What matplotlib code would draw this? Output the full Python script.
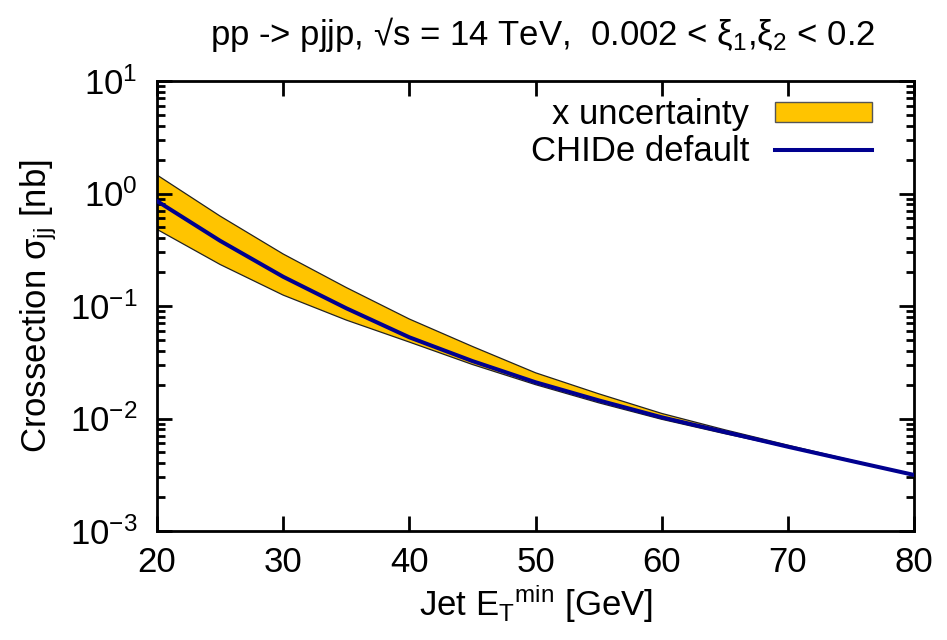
import matplotlib
matplotlib.use("Agg")
import matplotlib.pyplot as plt
from matplotlib.patches import Patch
from matplotlib.lines import Line2D
from matplotlib.ticker import LogLocator, LogFormatterMathtext, NullFormatter, FixedLocator


# =========================
# DATA
# =========================

et_min = [20, 25, 30, 35, 40, 45, 50, 55, 60, 65, 70, 75, 80]

sigma_default = [0.857, 0.38, 0.182, 0.0955, 0.0527, 0.0324, 0.021,
                 0.0145, 0.01025, 0.00759, 0.00561, 0.0042, 0.00315]

sigma_upper = [1.46, 0.63, 0.29, 0.146, 0.0766, 0.0437, 0.0255,
               0.0166, 0.0111, 0.00794, 0.0058, 0.00427, 0.00315]

sigma_lower = [0.48, 0.234, 0.125, 0.075, 0.0478, 0.0302, 0.020,
               0.0138, 0.00984, 0.00733, 0.00556, 0.00417, 0.00315]

x_ticks = [20, 30, 40, 50, 60, 70, 80]


# =========================
# STYLE
# =========================

plt.rcParams['font.family'] = ['Liberation Sans', 'DejaVu Sans']
plt.rcParams['mathtext.fontset'] = 'custom'
plt.rcParams['mathtext.rm'] = 'Liberation Sans'
plt.rcParams['mathtext.it'] = 'Liberation Sans:italic'
plt.rcParams['mathtext.bf'] = 'Liberation Sans:bold'
plt.rcParams['mathtext.default'] = 'regular'
plt.rcParams['axes.unicode_minus'] = False

FS = 25
BAND = '#ffc400'
NAVY = '#00008f'


# =========================
# PLOT
# =========================

fig = plt.figure(figsize=(9.47, 6.40), dpi=100)
ax = fig.add_axes([157 / 947, 1 - 531 / 640, (914 - 157) / 947, (531 - 81) / 640])

ax.fill_between(et_min, sigma_lower, sigma_upper, facecolor=BAND, edgecolor='none', zorder=1)
ax.plot(et_min, sigma_upper, color='#222222', lw=0.9, zorder=2)
ax.plot(et_min, sigma_lower, color='#222222', lw=0.9, zorder=2)
ax.plot(et_min, sigma_default, color=NAVY, lw=2.9, zorder=3)

ax.set_yscale('log')
ax.set_xlim(20, 80)
ax.set_ylim(1e-3, 1e1)

ax.xaxis.set_major_locator(FixedLocator(x_ticks))
ax.yaxis.set_major_locator(LogLocator(base=10, numticks=10))
ax.yaxis.set_major_formatter(LogFormatterMathtext())
ax.yaxis.set_minor_locator(LogLocator(base=10, subs=range(2, 10), numticks=20))
ax.yaxis.set_minor_formatter(NullFormatter())

ax.tick_params(which='both', direction='in', top=True, right=True, width=2)
ax.tick_params(which='major', length=11, labelsize=FS)
ax.tick_params(which='minor', length=6)
ax.tick_params(axis='x', pad=11)
ax.tick_params(axis='y', pad=14)

for s in ax.spines.values():
    s.set_linewidth(2)

ax.set_xlabel(r'Jet E$_{\mathrm{T}}{}^{\mathrm{min}}$ [GeV]', fontsize=FS, labelpad=2)
ax.set_ylabel(r'Crossection σ$_{\mathrm{jj}}$ [nb]', fontsize=FS, labelpad=8)
ax.set_title(r'pp -> pjjp, √s = 14 TeV,  0.002 < ξ$_1$,ξ$_2$ < 0.2', fontsize=FS,
             pad=26, x=0.51)

handles = [
    Patch(facecolor=BAND, edgecolor='#555555', lw=1.0),
    Line2D([], [], color=NAVY, lw=2.9),
]
ax.legend(handles, ['x uncertainty', 'CHIDe default'], loc='upper right',
          fontsize=FS, frameon=False, markerfirst=False, handlelength=2.8,
          handleheight=0.5, handletextpad=0.75, labelspacing=0.1,
          borderaxespad=0.4, borderpad=0.1, bbox_to_anchor=(0.968, 1.0))

plt.savefig('out.png', dpi=100)
